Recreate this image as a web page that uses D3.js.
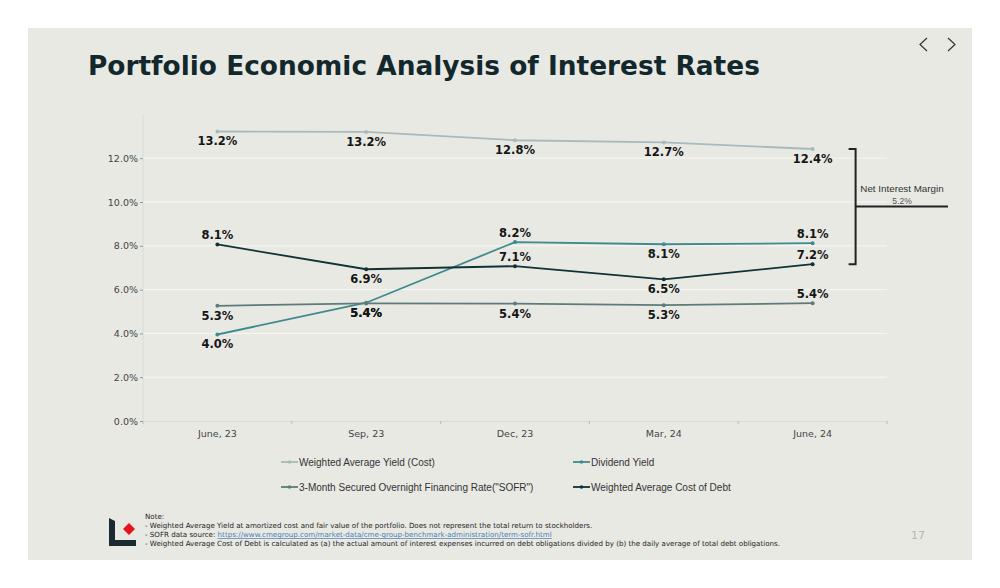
<!DOCTYPE html>
<html><head><meta charset="utf-8">
<script src="https://cdn.jsdelivr.net/npm/d3@7"></script>
<style>html,body{margin:0;padding:0;background:#fff;}svg{display:block;}</style>
</head><body>
<script>
const categories = ["June, 23", "Sep, 23", "Dec, 23", "Mar, 24", "June, 24"];
const yieldCost = [13.22, 13.2, 12.82, 12.72, 12.42];
const dividendYield = [3.95, 5.4, 8.17, 8.07, 8.12];
const sofr = [5.26, 5.37, 5.36, 5.29, 5.38];
const costOfDebt = [8.06, 6.93, 7.07, 6.47, 7.16];
const yTicks = [0, 2, 4, 6, 8, 10, 12];
const seriesNames = ["Weighted Average Yield (Cost)", "Dividend Yield", "3-Month Secured Overnight Financing Rate(\"SOFR\")", "Weighted Average Cost of Debt"];
const nimLabel = ["Net Interest Margin", "5.2%"];
const notes = ["Note:",
 "- Weighted Average Yield at amortized cost and fair value of the portfolio.  Does not represent the total return to stockholders.",
 "- SOFR data source: ",
 "- Weighted Average Cost of Debt is calculated as (a) the actual amount of interest expenses incurred on debt obligations divided by (b) the daily average of total debt obligations."];
const sofrUrl = "https://www.cmegroup.com/market-data/cme-group-benchmark-administration/term-sofr.html";

const W = 1000, H = 588;
const svg = d3.select("body").append("svg").attr("width", W).attr("height", H);
svg.append("rect").attr("x", 28).attr("y", 28).attr("width", 944).attr("height", 532).attr("fill", "#e9e9e4");

// title
svg.append("text").attr("x", 88).attr("y", 75).text("Portfolio Economic Analysis of Interest Rates")
  .attr("font-family", "DejaVu Sans").attr("font-weight", "bold").attr("font-size", 26.4).attr("fill", "#13282c");

// nav arrows
const nav = svg.append("g").attr("fill", "none").attr("stroke", "#333").attr("stroke-width", 1.2);
nav.append("path").attr("d", "M927,38 L920,44.5 L927,51");
nav.append("path").attr("d", "M948,38 L955,44.5 L948,51");

const x = d3.scaleBand().domain(categories).range([143, 887]);
const y = d3.scaleLinear().domain([0, 14]).range([421, 114.4]);
const cx = d => x(d) + x.bandwidth() / 2;

// grid
svg.append("g").selectAll("line").data(yTicks.slice(1)).join("line")
  .attr("x1", 143).attr("x2", 887).attr("y1", d => y(d)).attr("y2", d => y(d))
  .attr("stroke", "#f7f7f4").attr("stroke-width", 1);

// y axis
const yAxis = svg.append("g").attr("transform", "translate(143,0)")
  .call(d3.axisLeft(y).tickValues(yTicks).tickFormat(d => d.toFixed(1) + "%").tickSize(3).tickPadding(2));
yAxis.select(".domain").attr("stroke", "#dcdcd6").attr("d", "M0,114.4V421");
yAxis.selectAll(".tick line").attr("stroke", "#999");
yAxis.selectAll("text").attr("font-family", "DejaVu Sans").attr("font-size", 9.5).attr("fill", "#444");

// x axis
const xAxis = svg.append("g").attr("transform", "translate(0,421)")
  .call(d3.axisBottom(x).tickSize(0).tickPadding(9));
xAxis.select(".domain").attr("stroke", "#dcdcd6");
xAxis.selectAll("text").attr("font-family", "DejaVu Sans").attr("font-size", 9.5).attr("fill", "#444");
xAxis.append("g").selectAll("line").data(d3.range(categories.length + 1)).join("line")
  .attr("x1", i => 143 + i * x.bandwidth()).attr("x2", i => 143 + i * x.bandwidth())
  .attr("y1", 0).attr("y2", 3).attr("stroke", "#bbb");

const series = [
  {name: seriesNames[0], values: yieldCost, color: "#a8babc", pos: ["b","b","b","b","b"]},
  {name: seriesNames[1], values: dividendYield, color: "#3f8a90", pos: ["b","b","a","b","a"]},
  {name: seriesNames[2], values: sofr, color: "#5e7b7a", pos: ["b","b","b","b","a"]},
  {name: seriesNames[3], values: costOfDebt, color: "#0e3236", pos: ["a","b","a","b","a"]}
];
const line = d3.line().x((d, i) => cx(categories[i])).y(d => y(d));

series.forEach(s => {
  svg.append("path").datum(s.values).attr("d", line).attr("fill", "none")
    .attr("stroke", s.color).attr("stroke-width", 1.8);
  svg.append("g").selectAll("circle").data(s.values).join("circle")
    .attr("cx", (d, i) => cx(categories[i])).attr("cy", d => y(d)).attr("r", 2).attr("fill", s.color);
});
series.forEach(s => {
  svg.append("g").selectAll("text").data(s.values).join("text")
    .attr("x", (d, i) => cx(categories[i]))
    .attr("y", (d, i) => s.pos[i] === "a" ? y(d) - 5 : y(d) + 14)
    .attr("text-anchor", "middle").attr("font-family", "DejaVu Sans").attr("font-weight", "bold")
    .attr("font-size", 11.5).attr("fill", "#151515")
    .text(d => d.toFixed(1) + "%");
});

// bracket
const last = categories[categories.length - 1];
const yt = y(yieldCost[yieldCost.length - 1]), yb = y(costOfDebt[costOfDebt.length - 1]);
const bx = cx(last) + 43;
svg.append("path").attr("fill", "none").attr("stroke", "#222").attr("stroke-width", 2)
  .attr("d", `M${bx - 7},${yt}H${bx}V${yb}H${bx - 7}`);
svg.append("line").attr("x1", bx).attr("x2", 948).attr("y1", (yt + yb) / 2).attr("y2", (yt + yb) / 2)
  .attr("stroke", "#222").attr("stroke-width", 2);
svg.append("text").attr("x", 902).attr("y", 192).attr("text-anchor", "middle")
  .attr("font-family", "Liberation Sans").attr("font-size", 9.8).attr("fill", "#333").text(nimLabel[0]);
svg.append("text").attr("x", 902).attr("y", 204).attr("text-anchor", "middle")
  .attr("font-family", "Liberation Sans").attr("font-size", 8.5).attr("fill", "#555").text(nimLabel[1]);

// legend
const legPos = [[281, 462], [573, 462], [281, 487], [573, 487]];
series.forEach((s, i) => {
  const g = svg.append("g").attr("transform", `translate(${legPos[i][0]},${legPos[i][1]})`);
  g.append("line").attr("x1", 0).attr("x2", 17).attr("stroke", s.color).attr("stroke-width", 1.8);
  g.append("circle").attr("cx", 8.5).attr("r", 1.8).attr("fill", s.color);
  g.append("text").attr("x", 18).attr("y", 3.5).attr("font-family", "Liberation Sans").attr("font-size", 10)
    .attr("fill", "#333").text(s.name);
});

// logo
svg.append("path").attr("fill", "#1b2a30").attr("d", "M109,518 L115,521 L115,540 L136,540 L136,546 L109,546 Z");
svg.append("path").attr("fill", "#e8121b").attr("d", "M129,523 L135,529 L129,535 L123,529 Z");

// notes
const nt = svg.append("g").attr("font-family", "DejaVu Sans").attr("font-size", 7.1).attr("fill", "#222");
nt.append("text").attr("x", 145).attr("y", 519).text(notes[0]);
nt.append("text").attr("x", 145).attr("y", 528).text(notes[1]);
const t3 = nt.append("text").attr("x", 145).attr("y", 537);
t3.append("tspan").text(notes[2]);
t3.append("tspan").attr("fill", "#4a7fb5").attr("text-decoration", "underline").text(sofrUrl);
nt.append("text").attr("x", 145).attr("y", 546).text(notes[3]);

svg.append("text").attr("x", 918).attr("y", 539).attr("text-anchor", "middle")
  .attr("font-family", "DejaVu Sans").attr("font-size", 11).attr("fill", "#b5b5b0").text("17");
</script>
</body></html>
